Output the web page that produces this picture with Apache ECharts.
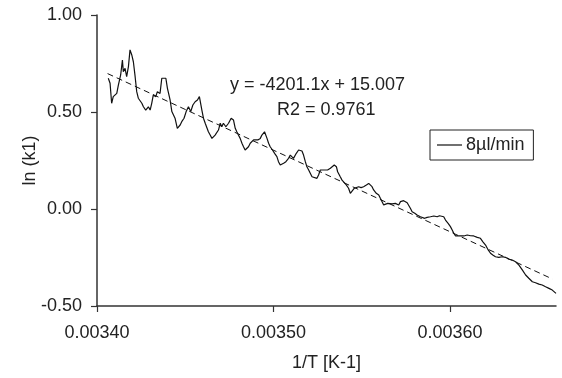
<!DOCTYPE html>
<html>
<head>
<meta charset="utf-8">
<script src="https://cdn.jsdelivr.net/npm/echarts@6/dist/echarts.min.js"></script>
<style>
html,body{margin:0;padding:0;background:#fff;}
#chart{width:562px;height:378px;}
</style>
</head>
<body>
<div id="chart"></div>
<script>
// 1/T [K-1]
var invT = [0.0034064,0.0034074,0.0034083,0.0034092,0.0034102,0.0034112,0.0034121,0.0034134,0.0034144,0.0034149,0.0034159,0.0034168,0.0034178,0.0034187,0.0034197,0.0034206,0.0034216,0.0034225,0.0034234,0.0034244,0.0034254,0.0034263,0.0034276,0.0034291,0.0034301,0.0034310,0.0034319,0.0034333,0.0034342,0.0034357,0.0034367,0.0034376,0.0034390,0.0034399,0.0034414,0.0034424,0.0034442,0.0034455,0.0034471,0.0034480,0.0034493,0.0034505,0.0034518,0.0034531,0.0034543,0.0034556,0.0034569,0.0034580,
0.0034594,0.0034603,0.0034613,0.0034622,0.0034631,0.0034641,0.0034651,0.0034660,0.0034669,0.0034679,0.0034688,0.0034698,0.0034707,0.0034716,0.0034730,0.0034745,0.0034760,0.0034773,0.0034783,0.0034792,0.0034801,0.0034811,0.0034821,0.0034830,0.0034839,0.0034849,0.0034858,0.0034868,0.0034877,0.0034887,0.0034896,0.0034911,0.0034925,0.0034934,0.0034949,0.0034963,0.0034972,0.0034981,0.0034994,0.0035006,0.0035019,0.0035028,0.0035038,0.0035048,0.0035057,0.0035070,0.0035085,0.0035095,
0.0035113,0.0035129,0.0035142,0.0035161,0.0035170,0.0035180,0.0035189,0.0035199,0.0035208,0.0035218,0.0035227,0.0035246,0.0035255,0.0035265,0.0035275,0.0035284,0.0035293,0.0035306,0.0035322,0.0035331,0.0035344,0.0035356,0.0035363,0.0035378,0.0035388,0.0035397,0.0035412,0.0035425,0.0035435,0.0035445,0.0035458,0.0035469,0.0035482,0.0035496,0.0035510,0.0035526,0.0035539,0.0035548,0.0035558,0.0035567,0.0035582,0.0035596,0.0035605,0.0035615,0.0035624,0.0035634,0.0035647,0.0035658,
0.0035672,0.0035690,0.0035709,0.0035719,0.0035737,0.0035757,0.0035766,0.0035775,0.0035785,0.0035800,0.0035813,0.0035822,0.0035832,0.0035842,0.0035856,0.0035870,0.0035889,0.0035908,0.0035927,0.0035940,0.0035951,0.0035964,0.0035974,0.0035989,0.0036002,0.0036012,0.0036021,0.0036031,0.0036040,0.0036059,0.0036078,0.0036097,0.0036116,0.0036134,0.0036154,0.0036172,0.0036186,0.0036201,0.0036216,0.0036229,0.0036242,0.0036257,0.0036276,0.0036295,0.0036314,0.0036333,0.0036352,0.0036371,0.0036390,0.0036409,0.0036428,0.0036446,0.0036466,0.0036484,0.0036503,0.0036522,0.0036541,0.0036560,0.0036579,0.0036590,0.0036600];

// ln (k1)
var lnK1 = [0.674,0.648,0.545,0.579,0.571,0.596,0.639,0.691,0.768,0.708,0.725,0.682,0.734,0.820,0.794,0.759,0.682,0.605,0.571,0.579,0.545,0.527,0.510,0.527,0.510,0.545,0.588,0.579,0.605,0.596,0.674,0.682,0.674,0.622,0.562,0.502,0.468,0.416,0.433,0.450,0.468,0.502,0.527,0.502,0.536,0.553,0.562,0.579,
0.510,0.468,0.442,0.433,0.398,0.381,0.364,0.356,0.381,0.373,0.407,0.442,0.424,0.442,0.424,0.442,0.468,0.459,0.416,0.398,0.381,0.364,0.339,0.321,0.304,0.304,0.321,0.339,0.347,0.356,0.364,0.356,0.364,0.381,0.398,0.364,0.339,0.321,0.304,0.287,0.270,0.244,0.227,0.218,0.236,0.244,0.261,0.278,
0.261,0.287,0.304,0.299,0.278,0.244,0.218,0.201,0.192,0.166,0.158,0.158,0.175,0.201,0.192,0.201,0.210,0.201,0.210,0.218,0.227,0.218,0.192,0.166,0.149,0.141,0.124,0.107,0.081,0.089,0.107,0.107,0.115,0.110,0.115,0.124,0.132,0.124,0.115,0.098,0.081,0.072,0.055,0.046,0.021,0.012,0.029,0.029,
0.026,0.029,0.021,0.038,0.043,0.032,0.029,0.004,-0.014,-0.022,-0.031,-0.036,-0.040,-0.043,-0.048,-0.043,-0.040,-0.036,-0.040,-0.035,-0.031,-0.040,-0.057,-0.074,-0.091,-0.108,-0.125,-0.139,-0.143,-0.139,-0.139,-0.134,-0.138,-0.139,-0.146,-0.151,-0.169,-0.186,-0.211,-0.228,-0.237,-0.246,-0.249,-0.246,-0.249,-0.259,-0.263,-0.272,-0.289,-0.314,-0.340,-0.357,-0.375,-0.380,-0.387,-0.392,-0.401,-0.409,-0.418,-0.426,-0.435];

// linear trend line end points (y = -4201.1x + 15.007)
var trendX = [0.003406, 0.003658];
var trendY = [0.698, -0.361];

var xTicks = [0.0034, 0.0035, 0.0036];
var seriesName = '8\u00b5l/min';
var trendLine1 = 'y = -4201.1x + 15.007';
var trendLine2 = 'R2 = 0.9761';

var n = Math.min(invT.length, lnK1.length);
var dataPairs = [];
for (var i = 0; i < n; i++) dataPairs.push([invT[i], lnK1[i]]);
var trendPairs = [[trendX[0], trendY[0]], [trendX[1], trendY[1]]];

var FONT = '"Liberation Sans", Arial, Helvetica, sans-serif';
var FS = 18;
var TXT = '#222';
var AX = '#333';

var chart = echarts.init(document.getElementById('chart'), null, {renderer: 'canvas'});
chart.setOption({
  animation: false,
  backgroundColor: '#fff',
  textStyle: {fontFamily: FONT},
  grid: {left: 97, right: 6, top: 15, bottom: 72, containLabel: false},
  xAxis: {
    type: 'value', min: 0.0034, max: 0.00366, interval: 0.0001,
    name: '1/T [K-1]', nameLocation: 'middle', nameGap: 48, nameMoveOverlap: false,
    nameTextStyle: {fontSize: FS, color: TXT, fontFamily: FONT},
    axisLine: {show: true, onZero: false, lineStyle: {color: AX, width: 1.5}},
    axisTick: {show: true, length: 6, lineStyle: {color: AX, width: 1.2}, customValues: xTicks},
    axisLabel: {fontSize: FS, color: TXT, margin: 18, fontFamily: FONT, customValues: xTicks,
      formatter: function (v) { return v.toFixed(5); }},
    splitLine: {show: false}
  },
  yAxis: {
    type: 'value', min: -0.5, max: 1, interval: 0.5,
    name: 'ln (k1)', nameLocation: 'middle', nameGap: 58, nameMoveOverlap: false,
    nameTextStyle: {fontSize: FS, color: TXT, fontFamily: FONT},
    axisLine: {show: true, onZero: false, lineStyle: {color: AX, width: 1.5}},
    axisTick: {show: true, length: 6, lineStyle: {color: AX, width: 1.2}},
    axisLabel: {fontSize: FS, color: TXT, margin: 15, fontFamily: FONT,
      formatter: function (v) { return v.toFixed(2); }},
    splitLine: {show: false}
  },
  legend: {
    show: true, data: [{name: seriesName, icon: 'rect'}], left: 430, top: 130,
    orient: 'horizontal', padding: [6, 9, 6, 7],
    borderColor: '#222', borderWidth: 1, backgroundColor: '#fff',
    itemWidth: 25, itemHeight: 1.2, itemGap: 5,
    itemStyle: {color: '#111', borderWidth: 0},
    textStyle: {fontSize: FS, color: TXT, fontFamily: FONT, padding: [0, 0, 0, -1]}
  },
  graphic: [
    {type: 'text', left: 230, top: 76, style: {text: trendLine1, fontSize: FS, fill: TXT, fontFamily: FONT}},
    {type: 'text', left: 277, top: 101, style: {text: trendLine2, fontSize: FS, fill: TXT, fontFamily: FONT}}
  ],
  series: [
    {
      name: 'trend', type: 'line', data: trendPairs, symbol: 'none', silent: true,
      lineStyle: {color: '#111', width: 1, type: [6, 4]}, z: 3
    },
    {
      name: seriesName, type: 'line', data: dataPairs, symbol: 'none', showSymbol: false,
      lineStyle: {color: '#111', width: 1.2}, itemStyle: {color: '#111'}, z: 4
    }
  ]
});
</script>
</body>
</html>
